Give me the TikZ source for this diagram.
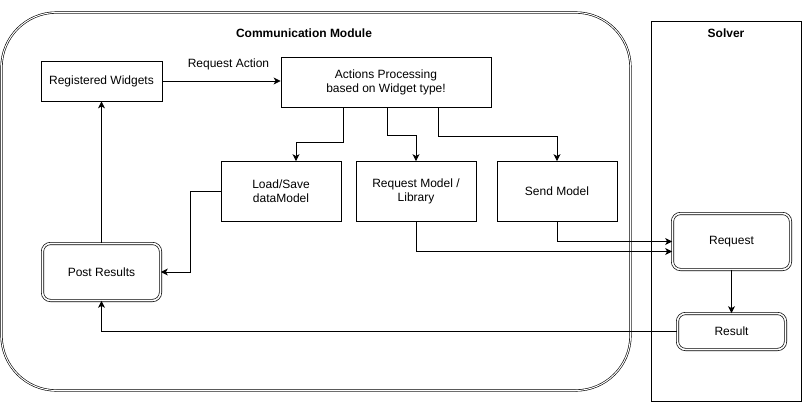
\documentclass[tikz,border=0pt]{standalone}
\usepackage{fontspec}
\setmainfont{Liberation Sans}
\usetikzlibrary{arrows.meta,calc}
\begin{document}
\begin{tikzpicture}[x=1pt,y=-1pt,
  every node/.style={font=\fontsize{12}{14}\selectfont},
  box/.style={draw,line width=0.8pt,align=center,inner sep=0pt},
  dbox/.style={draw,line width=0.7pt,double,double distance=1.6pt,rounded corners=8pt,align=center,inner sep=0pt},
  arr/.style={line width=0.8pt,-{Stealth[length=7pt,width=7pt,inset=2pt]}},
  ttl/.style={font=\fontsize{12}{14}\selectfont\bfseries}]
\useasboundingbox (0,0) rectangle (811,413);
% containers
\draw[line width=0.6pt,double,double distance=1pt,rounded corners=55pt] (1.5,12.5) rectangle (630.5,390.5);
\draw[line width=0.8pt] (651,21) rectangle (801,401);
\node[ttl] (cmt) at (304,33) {Communication Module};
\node[ttl] (svt) at (726,33) {Solver};
% nodes
\node[box,minimum width=121pt,minimum height=40pt] (rw) at (101.5,81) {Registered Widgets};
\node[box,minimum width=210pt,minimum height=50pt] (ap) at (386,82) {Actions Processing\\based on Widget type!};
\node[box,minimum width=120pt,minimum height=60pt] (ls) at (281,191.5) {Load/Save\\dataModel};
\node[box,minimum width=120pt,minimum height=60pt] (rm) at (416,191.5) {Request Model /\\Library};
\node[box,minimum width=120pt,minimum height=60pt] (sm) at (557,191.5) {Send Model};
\node[dbox,minimum width=118pt,minimum height=57pt] (pr) at (101.5,272) {Post Results};
\node[dbox,minimum width=118pt,minimum height=56pt] (rq) at (731.5,241.5) {Request};
\node[dbox,minimum width=108pt,minimum height=36pt] (rs) at (731.5,331.5) {Result};
% edges
\draw[arr] (rw.east) -- node[above=7pt,xshift=7pt] (ral) {Request Action} (ap.west |- rw.east);
\draw[arr] ([xshift=-43pt]ap.south) -- ++(0,35) -| ([xshift=15pt]ls.north);
\draw[arr] ([xshift=1pt]ap.south) -- ++(0,28) -| (rm.north);
\draw[arr] ([xshift=52pt]ap.south) -- ++(0,29) -| (sm.north);
\draw[arr] (ls.west) -- ++(-30,0) |- (pr.east);
\draw[arr] (pr.north) -- (rw.south);
\draw[arr] (sm.south) |- (rq.west);
\draw[arr] (rm.south) |- ([yshift=-10pt]rq.west);
\draw[arr] (rq.south) -- (rs.north);
\draw[arr] (rs.west) -| (pr.south);
\end{tikzpicture}
\end{document}
